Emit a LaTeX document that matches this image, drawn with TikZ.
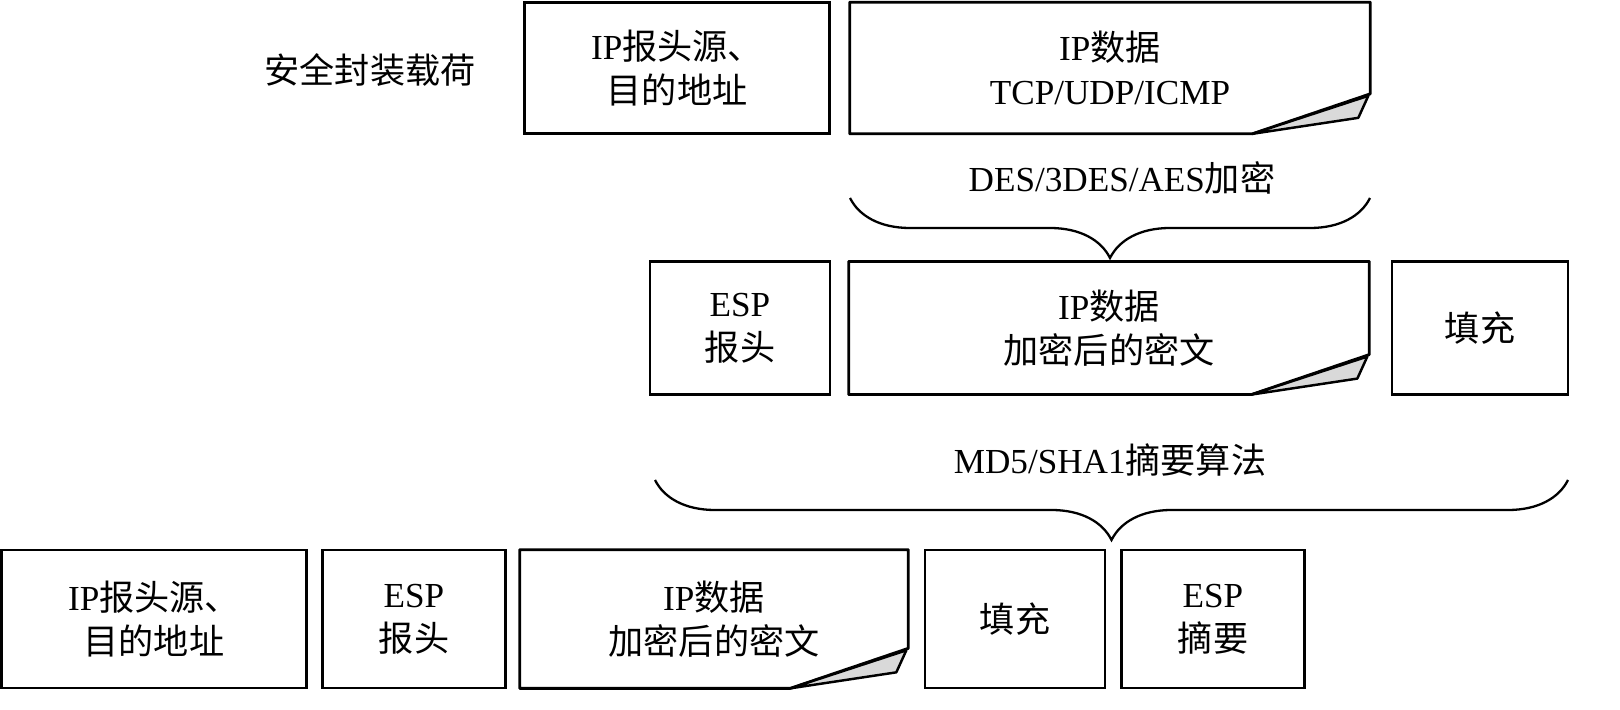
\documentclass[tikz,border=0pt]{standalone}
\usepackage{fontspec}
\setmainfont{Liberation Serif}
\newfontfamily\cjk{Noto Sans CJK SC}
\usetikzlibrary{positioning, decorations.pathreplacing, calc}
\tikzset{
  blk/.style = {rectangle, draw=black, line width=1.6pt, align=center, inner sep=0pt},
  txt/.style = {align=center, inner sep=0pt},
  fold/.style = {fill=black!15, draw=black, line width=1.4pt, line join=round},
  brc/.style = {decorate, decoration={brace, amplitude=1.2cm}, line width=1.3pt}
}
\newcommand{\zh}[1]{{\cjk #1}}
\begin{document}
\begin{tikzpicture}[x=0.02cm, y=-0.02cm, font=\fontsize{20}{25}\selectfont]
% row 1
\node (lbl) [txt] at (370,70) {\zh{安全封装载荷}};
\node (hdrA) [blk, minimum width=6.1cm, minimum height=2.62cm] at (677,68) {IP\zh{报头源、}\\\zh{目的地址}};
\node (datA) [txt, minimum width=10.4cm, minimum height=2.62cm] at (1110,68) {IP\zh{数据}\\TCP/UDP/ICMP};
\draw [line width=1.6pt, line join=round] ($(datA.south east)+(0,-40)$) |- (datA.north west) |- ($(datA.south east)+(-118,0)$) -- cycle;
\draw [fold] ($(datA.south east)+(-118,0)$) -- ($(datA.south east)+(-2,-38)$) -- ($(datA.south east)+(-12,-16)$) -- cycle;
% brace 1
\draw [brc] (1370,198) -- (850,198);
\node (enc) [txt] at (1122,178) {DES/3DES/AES\zh{加密}};
% row 2
\node (espB) [blk, minimum width=3.6cm, minimum height=2.65cm] at (740,328) {ESP\\\zh{报头}};
\node (datB) [txt, minimum width=10.4cm, minimum height=2.65cm] at (1109,328) {IP\zh{数据}\\\zh{加密后的密文}};
\draw [line width=1.6pt, line join=round] ($(datB.south east)+(0,-40)$) |- (datB.north west) |- ($(datB.south east)+(-118,0)$) -- cycle;
\draw [fold] ($(datB.south east)+(-118,0)$) -- ($(datB.south east)+(-2,-38)$) -- ($(datB.south east)+(-12,-16)$) -- cycle;
\node (padB) [blk, minimum width=3.52cm, minimum height=2.65cm] at (1480,328) {\zh{填充}};
% brace 2
\draw [brc] (1568,480) -- (655,480);
\node (dig) [txt] at (1110,460) {MD5/SHA1\zh{摘要算法}};
% row 3
\node (hdrC) [blk, minimum width=6.1cm, minimum height=2.76cm] at (154,619) {IP\zh{报头源、}\\\zh{目的地址}};
\node (espC) [blk, minimum width=3.66cm, minimum height=2.76cm] at (414,619) {ESP\\\zh{报头}};
\node (datC) [txt, minimum width=7.76cm, minimum height=2.76cm] at (714,619) {IP\zh{数据}\\\zh{加密后的密文}};
\draw [line width=1.6pt, line join=round] ($(datC.south east)+(0,-40)$) |- (datC.north west) |- ($(datC.south east)+(-118,0)$) -- cycle;
\draw [fold] ($(datC.south east)+(-118,0)$) -- ($(datC.south east)+(-2,-38)$) -- ($(datC.south east)+(-12,-16)$) -- cycle;
\node (padC) [blk, minimum width=3.6cm, minimum height=2.76cm] at (1015,619) {\zh{填充}};
\node (sumC) [blk, minimum width=3.66cm, minimum height=2.76cm] at (1213,619) {ESP\\\zh{摘要}};
\pgfresetboundingbox
\useasboundingbox (0,0) rectangle (1620,710);
\end{tikzpicture}
\end{document}
